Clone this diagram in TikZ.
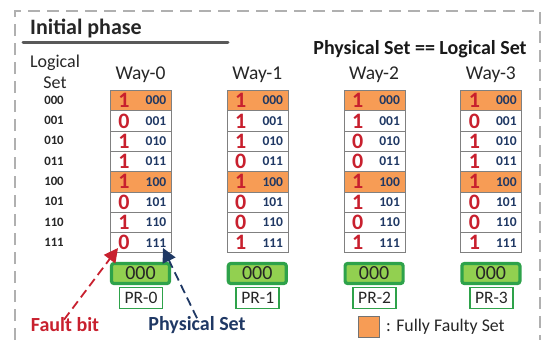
\documentclass[tikz,border=0pt]{standalone}
\usepackage{fontspec}
\setmainfont{Carlito}
\usetikzlibrary{arrows.meta}
\definecolor{faultred}{HTML}{C8202E}
\definecolor{setblue}{HTML}{1F3864}
\definecolor{ffset}{HTML}{F79C55}
\definecolor{prgreen}{HTML}{2EA24A}
\definecolor{prfill}{HTML}{92D050}
\definecolor{cellgray}{HTML}{808080}
\definecolor{framegray}{HTML}{B0B0B0}
\tikzset{
  cellbox/.style={draw=cellgray, line width=0.9pt, minimum width=61pt, minimum height=20.3pt, inner sep=0pt, anchor=north west},
  faulty/.style={fill=ffset},
  bitlbl/.style={text=faultred, font=\fontsize{22}{22}\selectfont\bfseries},
  setlbl/.style={text=setblue, font=\fontsize{13.5}{13.5}\selectfont\bfseries},
  rowlbl/.style={font=\fontsize{12.8}{12.8}\selectfont\bfseries, text=black!85},
  waylbl/.style={font=\fontsize{19.5}{19.5}\selectfont, text=black!85},
  prval/.style={draw=prgreen, line width=3.2pt, fill=prfill, rounded corners=2.5pt, minimum width=58pt, minimum height=20pt, inner sep=0pt, font=\fontsize{20}{20}\selectfont, text=black!85},
  prname/.style={draw=prgreen, line width=1.8pt, fill=white, minimum width=43pt, minimum height=21pt, inner sep=0pt, font=\fontsize{17.5}{17.5}\selectfont, text=black!85},
  callout/.style={dashed, dash pattern=on 9pt off 5pt, line width=1.8pt, -{Triangle[length=14pt,width=14pt]}},
}
\begin{document}
\begin{tikzpicture}[x=1pt, y=-1pt]
\useasboundingbox (0,0) rectangle (542,341);
% outer frame
\draw[framegray, line width=1.6pt, dash pattern=on 12pt off 7pt] (15,340) -- (15,11) -- (540,11) -- (540,340);
% title
\node[anchor=base west, font=\fontsize{22}{22}\selectfont\bfseries, text=black!85, inner sep=0pt] (title) at (30,34) {Initial phase};
\coordinate (ulA) at (23,42);
\coordinate (ulB) at (228,42);
\draw[black!65, line width=3pt, line cap=round] (ulA) -- (ulB);
\node[font=\fontsize{20}{20}\selectfont\bfseries, text=black!90, inner sep=0pt] (eq) at (420,49) {Physical Set == Logical Set};
% logical set column
\node[font=\fontsize{18}{18}\selectfont, text=black!85, inner sep=0pt] (lg) at (55,63) {Logical};
\node[font=\fontsize{18}{18}\selectfont, text=black!85, inner sep=0pt] (ls) at (55,83) {Set};
\foreach \r/\s in {0/000,1/001,2/010,3/011,4/100,5/101,6/110,7/111}{
  \node[rowlbl, inner sep=0pt] (row\r) at (54,{100.2+20.3*\r}) {\s};
}
% ways
\foreach \w/\bits in {0/{1,0,1,1,1,0,1,0},1/{1,1,1,0,1,0,0,1},2/{1,1,0,0,1,1,0,1},3/{1,0,1,1,1,0,0,1}}{
  \pgfmathsetmacro{\xl}{110+116.8*\w}
  \node[waylbl, inner sep=0pt] (way\w) at (\xl+30.5,75) {Way-\w};
  \foreach \b [count=\i from 0] in \bits {
    \pgfmathtruncatemacro{\ri}{\i}
    \ifnum\ri=0 \def\cst{faulty}\else\ifnum\ri=4 \def\cst{faulty}\else\def\cst{}\fi\fi
    \node[cellbox, \cst] (c\w\ri) at (\xl,{90+20.3*\ri}) {};
    \node[bitlbl, inner sep=0pt] (b\w\ri) at ([xshift=14pt]c\w\ri.west) {\b};
  }
  \foreach \s [count=\i from 0] in {000,001,010,011,100,101,110,111}{
    \node[setlbl, inner sep=0pt] (p\w\i) at ([xshift=46pt]c\w\i.west) {\s};
  }
  \node[prval] (pv\w) at (\xl+30.5,273.5) {000};
  \node[prname] (pr\w) at (\xl+31,298) {PR-\w};
}
% callouts
\node[font=\fontsize{20}{20}\selectfont\bfseries, text=faultred, inner sep=0pt] (fault) at (65,325) {Fault bit};
\node[font=\fontsize{20}{20}\selectfont\bfseries, text=setblue, inner sep=0pt] (phys) at (197,325) {Physical Set};
\coordinate (ftip) at (118,248);
\coordinate (ptip) at (163,248);
\draw[callout, faultred] ([xshift=-1pt,yshift=-2pt]fault.north) -- (ftip);
\draw[callout, setblue] ([yshift=-2pt]phys.north) -- (ptip);
% legend
\node[draw=black!55, line width=0.8pt, fill=ffset, minimum width=21pt, minimum height=21pt, inner sep=0pt] (leg) at (369,326.5) {};
\node[anchor=west, font=\fontsize{17.8}{17.8}\selectfont, text=black!85, inner sep=0pt] (legt) at (386,327) {: Fully Faulty Set};
\end{tikzpicture}
\end{document}
